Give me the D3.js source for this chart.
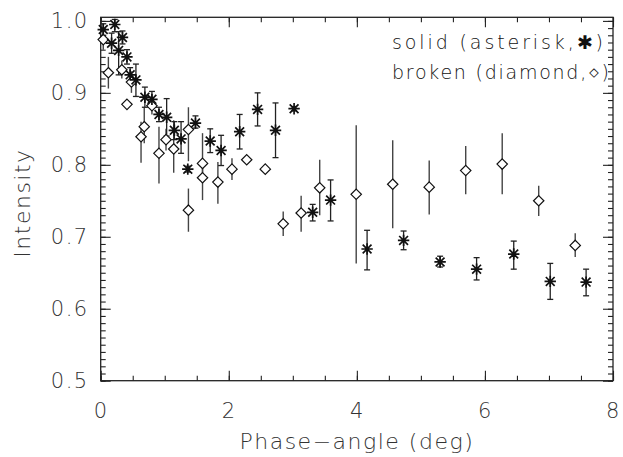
<!DOCTYPE html>
<html><head><meta charset="utf-8">
<script src="https://cdn.jsdelivr.net/npm/d3@7"></script>
<style>body{margin:0;background:#fff}svg{display:block}</style></head>
<body><svg id="c" width="623" height="457"></svg>
<script>
// solid (asterisk) series
const solidX  = [0.04, 0.17, 0.22, 0.28, 0.34, 0.41, 0.46, 0.55, 0.69, 0.80, 0.91, 1.03, 1.15, 1.255, 1.36, 1.48, 1.71, 1.88, 2.17, 2.45, 2.73, 3.02, 3.31, 3.59, 4.16, 4.73, 5.30, 5.87, 6.45, 7.02, 7.58];
const solidY  = [0.988, 0.969, 0.995, 0.959, 0.977, 0.950, 0.925, 0.918, 0.894, 0.891, 0.870, 0.866, 0.848, 0.836, 0.794, 0.858, 0.833, 0.820, 0.846, 0.877, 0.848, 0.878, 0.734, 0.751, 0.683, 0.695, 0.665, 0.655, 0.676, 0.638, 0.637];
const solidLo = [0.980, 0.955, 0.985, 0.925, 0.968, 0.940, 0.915, 0.895, 0.880, 0.880, 0.860, 0.840, 0.835, 0.816, 0.790, 0.851, 0.817, 0.799, 0.822, 0.854, 0.810, 0.875, 0.722, 0.722, 0.654, 0.682, 0.658, 0.640, 0.655, 0.613, 0.618];
const solidHi = [0.996, 0.983, 1.002, 0.985, 0.986, 0.960, 0.935, 0.940, 0.908, 0.902, 0.880, 0.892, 0.860, 0.860, 0.798, 0.868, 0.850, 0.841, 0.870, 0.900, 0.886, 0.881, 0.745, 0.779, 0.709, 0.708, 0.673, 0.671, 0.694, 0.663, 0.655];

// broken (diamond) series
const brokenX  = [0.04, 0.12, 0.33, 0.41, 0.48, 0.63, 0.68, 0.80, 0.91, 1.02, 1.14, 1.37, 1.37, 1.59, 1.59, 1.83, 2.05, 2.28, 2.57, 2.85, 3.13, 3.42, 3.99, 4.56, 5.13, 5.70, 6.27, 6.84, 7.41];
const brokenY  = [0.974, 0.928, 0.932, 0.884, 0.915, 0.839, 0.853, 0.882, 0.816, 0.835, 0.822, 0.849, 0.737, 0.802, 0.782, 0.776, 0.794, 0.807, 0.794, 0.718, 0.733, 0.768, 0.759, 0.773, 0.769, 0.792, 0.801, 0.750, 0.688];
const brokenLo = [0.960, 0.906, 0.920, 0.880, 0.900, 0.803, 0.830, 0.870, 0.774, 0.820, 0.789, 0.805, 0.707, 0.780, 0.751, 0.746, 0.779, 0.807, 0.794, 0.701, 0.707, 0.730, 0.663, 0.712, 0.731, 0.759, 0.759, 0.729, 0.672];
const brokenHi = [0.985, 0.950, 0.945, 0.890, 0.930, 0.860, 0.880, 0.895, 0.853, 0.850, 0.862, 0.880, 0.767, 0.844, 0.800, 0.804, 0.809, 0.807, 0.794, 0.735, 0.757, 0.807, 0.855, 0.834, 0.806, 0.826, 0.844, 0.771, 0.705];

const xTicks = [0, 2, 4, 6, 8];
const yTicks = [0.5, 0.6, 0.7, 0.8, 0.9, 1.0];
const legendLines = ["solid (asterisk,\u2731)", "broken (diamond,\u22C4)"];
const xTitle = "Phase\u2212angle (deg)";
const yTitle = "Intensity";

const svg = d3.select("#c");
const L = 100.7, R = 613, T = 17.3, B = 380.7;
const x = d3.scaleLinear().domain([0, 8]).range([L, R]);
const y = d3.scaleLinear().domain([0.5, 1.005]).range([B, T]);
const font = "'DejaVu Sans', 'Open Sans', sans-serif";
const txtCol = "#333";

const xMinor = d3.range(0, 8.01, 0.5);
const yMinor = d3.range(0, 51).map(i => 0.5 + i * 0.01).filter(v => v <= 1.005);

function styleAxis(g) {
  g.select(".domain").remove();
  g.selectAll("line").attr("stroke", "#222").attr("stroke-width", 1.1);
  g.selectAll("text").attr("font-family", font).attr("font-size", 21).attr("fill", txtCol)
   .attr("font-weight", 300).attr("letter-spacing", 1.5);
}
// bottom
svg.append("g").attr("transform", `translate(0,${B})`)
  .call(d3.axisBottom(x).tickValues(xMinor).tickSize(-5).tickFormat("")).call(styleAxis);
svg.append("g").attr("transform", `translate(0,${B})`)
  .call(d3.axisBottom(x).tickValues(xTicks).tickSize(-10).tickPadding(22).tickFormat(d3.format("d"))).call(styleAxis);
// top
svg.append("g").attr("transform", `translate(0,${T})`)
  .call(d3.axisTop(x).tickValues(xMinor).tickSize(-5).tickFormat("")).call(styleAxis);
svg.append("g").attr("transform", `translate(0,${T})`)
  .call(d3.axisTop(x).tickValues(xTicks).tickSize(-10).tickFormat("")).call(styleAxis);
// left
svg.append("g").attr("transform", `translate(${L},0)`)
  .call(d3.axisLeft(y).tickValues(yMinor).tickSize(-5).tickFormat("")).call(styleAxis);
svg.append("g").attr("transform", `translate(${L},0)`)
  .call(d3.axisLeft(y).tickValues(yTicks).tickSize(-10).tickPadding(12).tickFormat(d3.format(".1f"))).call(styleAxis);
// right
svg.append("g").attr("transform", `translate(${R},0)`)
  .call(d3.axisRight(y).tickValues(yMinor).tickSize(-5).tickFormat("")).call(styleAxis);
svg.append("g").attr("transform", `translate(${R},0)`)
  .call(d3.axisRight(y).tickValues(yTicks).tickSize(-10).tickFormat("")).call(styleAxis);

// frame
svg.append("rect").attr("x", L).attr("y", T).attr("width", R - L).attr("height", B - T)
  .attr("fill", "none").attr("stroke", "#222").attr("stroke-width", 1.3);

// titles
svg.append("text").attr("x", (L + R) / 2).attr("y", 449).attr("text-anchor", "middle")
  .attr("font-family", font).attr("font-size", 22).attr("font-weight", 300).attr("fill", txtCol)
  .attr("letter-spacing", 1.5).text(xTitle);
svg.append("text").attr("transform", "translate(30,203) rotate(-90)").attr("text-anchor", "middle")
  .attr("font-family", font).attr("font-size", 22).attr("font-weight", 300).attr("fill", txtCol)
  .attr("letter-spacing", 1.5).text(yTitle);

// data
const solid = solidX.map((v, i) => ({x: v, y: solidY[i], lo: solidLo[i], hi: solidHi[i]}));
const broken = brokenX.map((v, i) => ({x: v, y: brokenY[i], lo: brokenLo[i], hi: brokenHi[i]}));

// broken error bars (no caps)
svg.append("g").selectAll("line").data(broken.filter(d => d.hi - d.lo > 0.001)).join("line")
  .attr("x1", d => x(d.x)).attr("x2", d => x(d.x))
  .attr("y1", d => y(d.lo)).attr("y2", d => y(d.hi))
  .attr("stroke", "#444").attr("stroke-width", 1.4);

// solid error bars with caps
const eb = svg.append("g").selectAll("g").data(solid.filter(d => d.hi - d.lo > 0.001)).join("g");
eb.append("line").attr("x1", d => x(d.x)).attr("x2", d => x(d.x))
  .attr("y1", d => y(d.lo)).attr("y2", d => y(d.hi)).attr("stroke", "#222").attr("stroke-width", 1.3);
eb.append("line").attr("x1", d => x(d.x) - 3).attr("x2", d => x(d.x) + 3)
  .attr("y1", d => y(d.lo)).attr("y2", d => y(d.lo)).attr("stroke", "#222").attr("stroke-width", 1.3);
eb.append("line").attr("x1", d => x(d.x) - 3).attr("x2", d => x(d.x) + 3)
  .attr("y1", d => y(d.hi)).attr("y2", d => y(d.hi)).attr("stroke", "#222").attr("stroke-width", 1.3);

// diamonds
const dr = 5.2;
svg.append("g").selectAll("path").data(broken).join("path")
  .attr("d", d => { const cx = x(d.x), cy = y(d.y);
    return `M${cx},${cy - dr}L${cx + dr},${cy}L${cx},${cy + dr}L${cx - dr},${cy}Z`; })
  .attr("fill", "#fff").attr("stroke", "#111").attr("stroke-width", 1.2);

// asterisks
const ar = 5.7, ad = 4.4;
svg.append("g").selectAll("path").data(solid).join("path")
  .attr("d", d => { const cx = x(d.x), cy = y(d.y);
    return `M${cx},${cy - ar}L${cx},${cy + ar}M${cx - ad},${cy - ad}L${cx + ad},${cy + ad}M${cx - ad},${cy + ad}L${cx + ad},${cy - ad}M${cx - ar},${cy}L${cx + ar},${cy}`; })
  .attr("fill", "none").attr("stroke", "#111").attr("stroke-width", 1.7);

// legend
svg.append("g").selectAll("text").data(legendLines).join("text")
  .attr("x", 392).attr("y", (d, i) => 49 + i * 30)
  .attr("font-family", font).attr("font-size", 19).attr("font-weight", 300).attr("fill", "#111")
  .attr("textLength", (d, i) => i === 0 ? 211 : 217).attr("lengthAdjust", "spacing")
  .text(d => d);
</script></body></html>
